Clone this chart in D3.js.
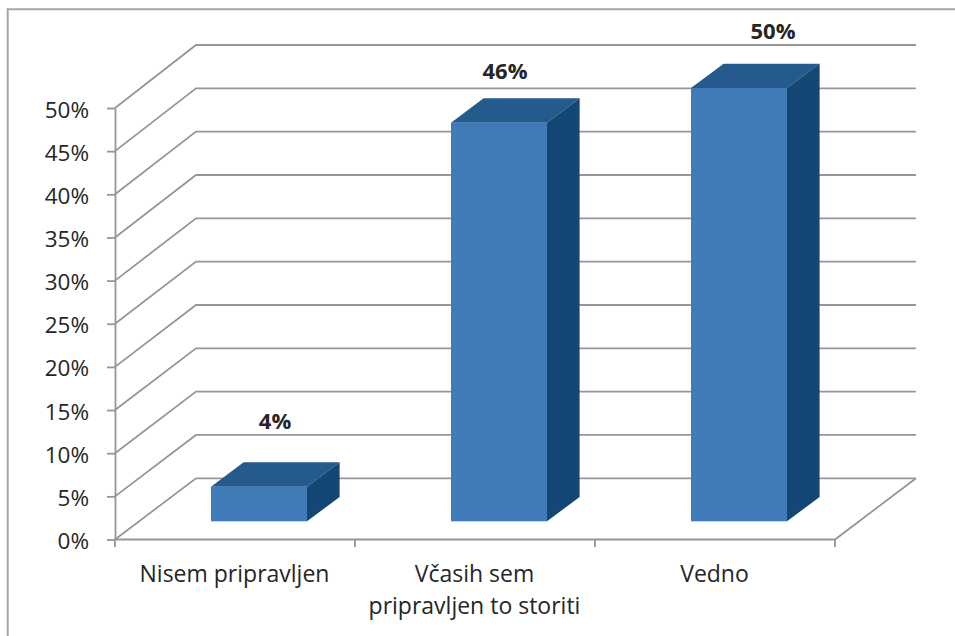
<!DOCTYPE html>
<html><head><meta charset="utf-8">
<script src="https://cdnjs.cloudflare.com/ajax/libs/d3/7.8.5/d3.min.js"></script>
<style>html,body{margin:0;padding:0;background:#fff}svg{display:block}text{font-family:"Open Sans",sans-serif;fill:#262626}</style>
</head><body><svg id="c" width="955" height="636"></svg>
<script>
const categories = ["Nisem pripravljen", "Včasih sem pripravljen to storiti", "Vedno"];
const categoryLines = [["Nisem pripravljen"], ["Včasih sem", "pripravljen to storiti"], ["Vedno"]];
const values = [4, 46, 50];
const tickValues = [0, 5, 10, 15, 20, 25, 30, 35, 40, 45, 50];

const labelNudge = [[16, -58], [6, -43.7], [34, -49.5]];
const svg = d3.select("#c");
const y = d3.scaleLinear().domain([0, 50]).range([539.5, 108]);
const yBack = d3.scaleLinear().domain([0, 50]).range([478.3, 45]);
const x = d3.scaleBand().domain(categories).range([115, 835]);
const backDx = 81;
const grid = "#969696";

svg.append("path").attr("fill", "none").attr("stroke", "#a6a6a6").attr("stroke-width", 2)
  .attr("d", "M7.7,636V9.3H955");

tickValues.forEach(t => {
  svg.append("path").attr("fill", "none").attr("stroke", grid).attr("stroke-width", 1.8)
    .attr("d", `M${x.range()[0]},${y(t)}L${x.range()[0] + backDx},${yBack(t)}L${x.range()[1] + backDx},${yBack(t)}`);
});
svg.append("path").attr("fill", "none").attr("stroke", grid).attr("stroke-width", 1.8)
  .attr("d", `M${x.range()[0]},${y(0)}L${x.range()[1]},${y(0)}L${x.range()[1] + backDx},${yBack(0)}`);

const yAxis = d3.axisLeft(y).tickValues(tickValues).tickFormat(d => d + "%").tickSizeInner(8).tickSizeOuter(0).tickPadding(18);
const gy = svg.append("g").attr("transform", `translate(${x.range()[0]},0)`).call(yAxis);
gy.selectAll("line,path").attr("stroke", grid).attr("stroke-width", 1.8);
gy.selectAll("text").attr("font-size", 22.5).attr("dy", "0.4em").attr("style", 'font-family:"Open Sans",sans-serif;fill:#262626');

const gx = svg.append("g").attr("transform", `translate(0,${y(0)})`);
[...categories.map(c => x(c)), x.range()[1]].forEach(v =>
  gx.append("line").attr("x1", v).attr("x2", v).attr("y1", 0).attr("y2", 7.5).attr("stroke", grid).attr("stroke-width", 1.8));
categories.forEach((c, i) => {
  const t = gx.append("text").attr("text-anchor", "middle").attr("font-size", 23);
  categoryLines[i].forEach((l, j) => t.append("tspan").attr("x", x(c) + x.bandwidth() / 2 - 0.5).attr("y", 42 + j * 32.4).text(l));
});

const barW = 96, sideDx = 32.6, sideDy = -24.3, floorDx = 24, floorDy = -18.2;
const bars = svg.append("g").selectAll("g").data(values).join("g");
bars.each(function (v, i) {
  const g = d3.select(this);
  const l = x(categories[i]) + x.bandwidth() / 2 - barW / 2 + floorDx;
  const r = l + barW;
  const bottom = y(0) + floorDy;
  const top = bottom - (yBack(0) - yBack(v));
  g.append("path").attr("fill", "#255a8c").attr("d", `M${l},${top}L${l + sideDx},${top + sideDy}L${r + sideDx},${top + sideDy}L${r},${top}Z`);
  g.append("path").attr("fill", "#144773").attr("d", `M${r},${top}L${r + sideDx},${top + sideDy}L${r + sideDx},${bottom + sideDy}L${r},${bottom}Z`);
  g.append("rect").attr("x", l).attr("y", top).attr("width", barW).attr("height", bottom - top).attr("fill", "#407ab9");
  g.append("text").attr("text-anchor", "middle").attr("font-weight", 700).attr("font-size", 22)
    .attr("x", (l + r) / 2 + labelNudge[i][0]).attr("y", top + labelNudge[i][1]).text(v + "%");
});
</script></body></html>
